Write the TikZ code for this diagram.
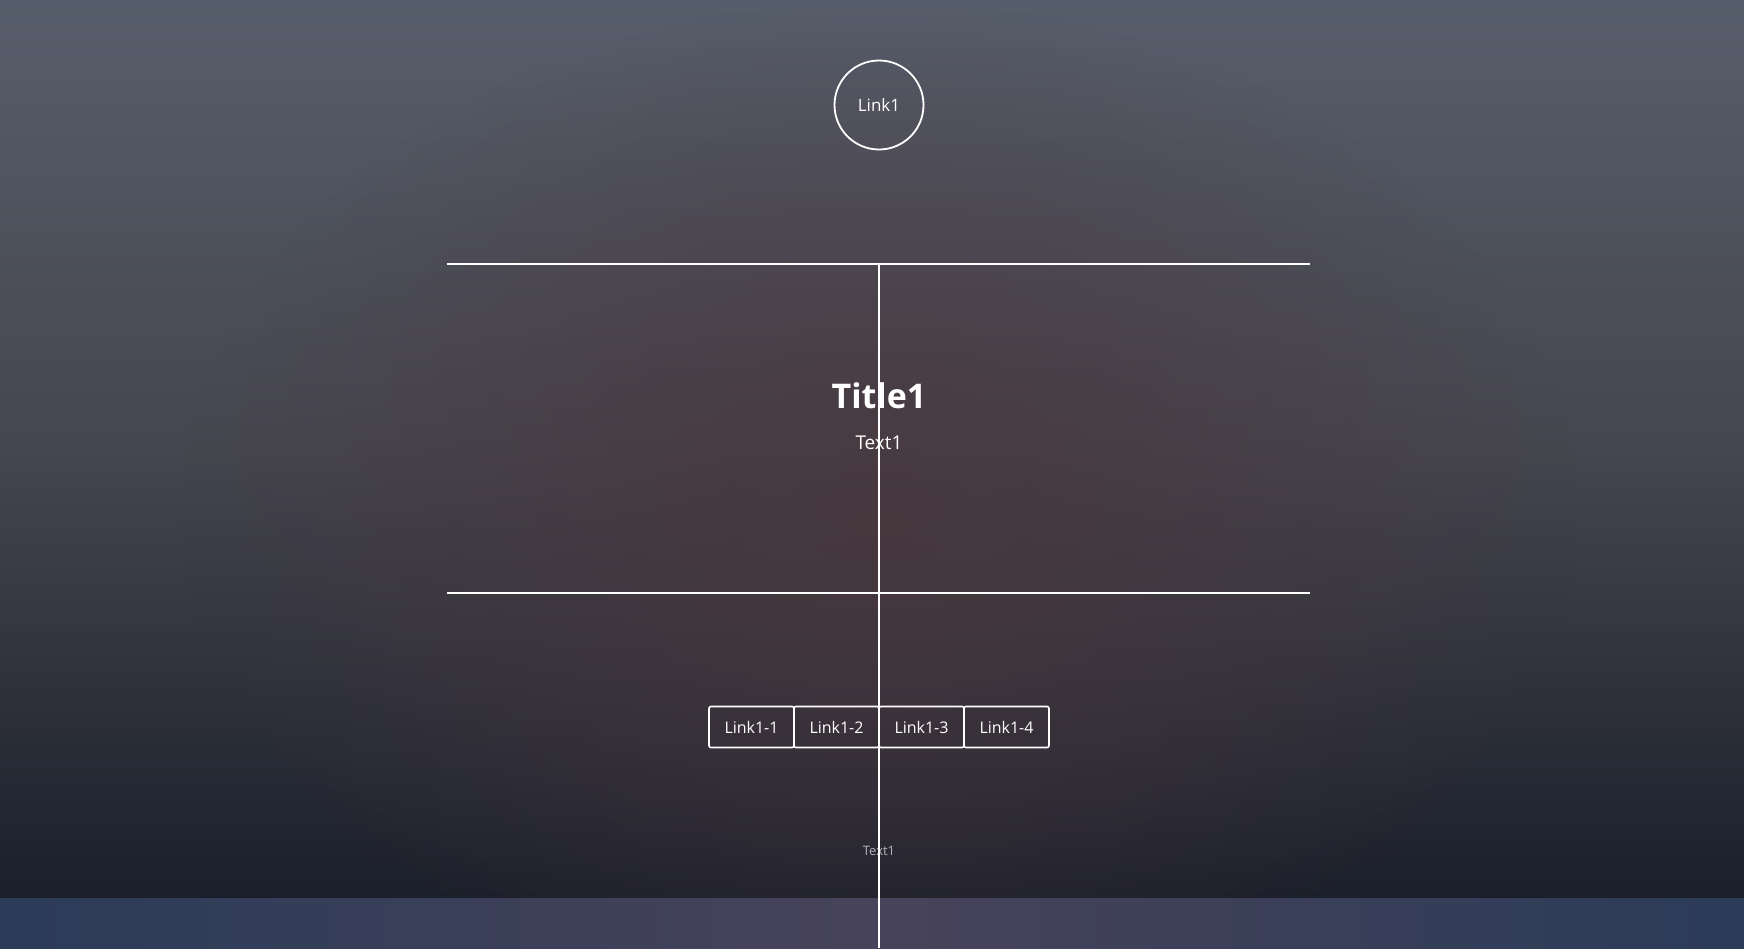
\documentclass[tikz,border=0pt]{standalone}
\usepackage{fontspec}
\setmainfont{Open Sans}
\usepackage{tikz}
\usetikzlibrary{positioning}
\usetikzlibrary{fadings}
\definecolor{bgtop}{HTML}{575E6B}
\definecolor{bgmid}{HTML}{45464F}
\definecolor{bgbot}{HTML}{1A1F2B}
\definecolor{bgwarm}{HTML}{4A363C}
\definecolor{bandside}{HTML}{2B3B58}
\definecolor{bandmid}{HTML}{47435A}
\definecolor{softtext}{HTML}{B4B4BC}
\tikzfading[name=warmglow, inner color=transparent!0, outer color=transparent!100]
\tikzset{
    linkbtn/.style={draw=white, line width=1.6pt, rounded corners=2pt, minimum width=85pt, minimum height=41pt, inner sep=0pt, outer sep=0pt, text=white, font=\fontsize{16}{18}\selectfont},
    rulewhite/.style={draw=white, line width=2pt}}

\begin{document}
\begin{tikzpicture}[x=1pt, y=-1pt]
        \useasboundingbox (0,0) rectangle (1744,948);
        
                    % background
                    \shade[top color=bgtop, bottom color=bgbot, middle color=bgmid] (0,0) rectangle (1744,898);
                    \fill[bgwarm, path fading=warmglow, opacity=0.8] (879,520) ellipse (700 and 520);
                    \shade[left color=bandside, right color=bandmid] (0,898) rectangle (879,948);
                    \shade[left color=bandmid, right color=bandside] (879,898) rectangle (1744,948);
                    
                    \node[shape=circle, draw=white, line width=1.8pt, minimum size=89pt, text=white, font=\fontsize{17}{20}\selectfont] (L) at (879,105) {Link1};
                    \node[text=white, font=\fontsize{34}{40}\selectfont\bfseries] (T) at (879,396) {Title1};
                    \node[text=white, font=\fontsize{19}{22}\selectfont] (X) at (879,443) {Text1};
                
                    \node[linkbtn] (B1) at (751.5,727) {Link1-1};
                    \node[linkbtn, right=0pt of B1] (B2) {Link1-2};
                    \node[linkbtn, right=0pt of B2] (B3) {Link1-3};
                    \node[linkbtn, right=0pt of B3] (B4) {Link1-4};
                    
                    \node[text=softtext, font=\fontsize{13}{15}\selectfont] (F) at (879,851) {Text1};
                    
                    \coordinate (R1) at (447,263.6);
                    \coordinate (R2) at (1310,263.6);
                    \coordinate (R3) at (447,592.8);
                    \coordinate (R4) at (1310,592.8);
                    \coordinate (V1) at (879,263.6);
                    \coordinate (V2) at (879,948);
                    
                    \draw[rulewhite] (R1) -- (R2);
                    \draw[rulewhite] (R3) -- (R4);
                    \draw[rulewhite] (V1) -- (V2);
            
                \end{tikzpicture}
\end{document}
